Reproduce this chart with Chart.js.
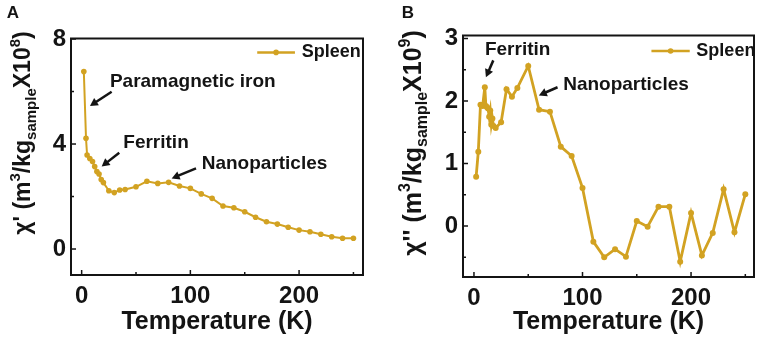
<!DOCTYPE html>
<html>
<head>
<meta charset="utf-8">
<script src="https://cdn.jsdelivr.net/npm/chart.js@4.4.0/dist/chart.umd.min.js"></script>
<style>
html, body { margin: 0; padding: 0; background: #fff; }
#wrap { position: relative; width: 760px; height: 337px; }
.panel { position: absolute; top: 0; width: 380px; height: 337px; }
</style>
</head>
<body>
<div id="wrap">
  <div class="panel" style="left:0"><canvas id="chartA" width="380" height="337"></canvas></div>
  <div class="panel" style="left:380px"><canvas id="chartB" width="380" height="337"></canvas></div>
</div>
<script>
// panel A: real part chi'
const tempA = [2, 4, 5, 7.5, 10, 12, 14, 16, 18, 20, 25, 30, 35, 40, 50, 60, 70, 80, 90, 100,
  110, 120, 130, 140, 150, 160, 170, 180, 190, 200, 210, 220, 230, 240, 250];
const chiRealA = [6.76, 4.22, 3.58, 3.45, 3.33, 3.14, 2.95, 2.86, 2.65, 2.53, 2.22, 2.15, 2.25, 2.27, 2.37, 2.58, 2.50, 2.54, 2.40, 2.31,
  2.10, 1.93, 1.64, 1.57, 1.42, 1.21, 1.04, 0.95, 0.83, 0.72, 0.66, 0.56, 0.47, 0.41, 0.41];

// panel B: imaginary part chi''
const tempB = [2, 4, 6, 8, 10, 11, 12, 13, 14, 15, 16, 17, 18, 20, 25, 30, 35, 40, 50, 60,
  70, 80, 90, 100, 110, 120, 130, 140, 150, 160, 170, 180, 190, 200, 210, 220, 230, 240, 250];
const chiImagB = [0.79, 1.19, 1.94, 1.92, 2.22, 1.92, 1.90, 1.88, 1.75, 1.85, 1.62, 1.72, 1.60, 1.57, 1.66, 2.19, 2.07, 2.21, 2.56, 1.86,
  1.83, 1.27, 1.12, 0.61, -0.25, -0.50, -0.37, -0.49, 0.08, -0.01, 0.31, 0.31, -0.57, 0.21, -0.47, -0.11, 0.59, -0.10, 0.51];

// ticks
const xTickLabels = [0, 100, 200];
const xMinorTicks = [50, 150, 250];
const yTicksA = [0, 4, 8];
const yMinorA = [2, 6];
const yTicksB = [0, 1, 2, 3];
const yMinorB = [-0.5, 0.5, 1.5, 2.5];

const seriesName = 'Spleen';
const GOLD = '#d2a222';
const INK = '#141414';
const FONT = '"Liberation Sans", Arial, sans-serif';

// annotations, in data units
const notesA = [
  { text: 'Paramagnetic iron', at: [26, 6.37], from: [27.6, 5.99], to: [7.6, 5.45] },
  { text: 'Ferritin', at: [38.3, 4.03], from: [34.6, 3.67], to: [18.4, 3.14] },
  { text: 'Nanoparticles', at: [110.4, 3.24], from: [105.2, 3.07], to: [82.8, 2.69] }
];
const notesB = [
  { text: 'Ferritin', at: [10.1, 2.82], from: [17.8, 2.65], to: [11, 2.38] },
  { text: 'Nanoparticles', at: [82.2, 2.26], from: [77, 2.22], to: [59.8, 2.09] }
];

function drawArrow(ctx, x1, y1, x2, y2) {
  const ang = Math.atan2(y2 - y1, x2 - x1);
  const head = 9;
  ctx.beginPath();
  ctx.moveTo(x1, y1);
  ctx.lineTo(x2 - Math.cos(ang) * head * 0.8, y2 - Math.sin(ang) * head * 0.8);
  ctx.stroke();
  ctx.beginPath();
  ctx.moveTo(x2, y2);
  ctx.lineTo(x2 - head * Math.cos(ang - 0.5), y2 - head * Math.sin(ang - 0.5));
  ctx.lineTo(x2 - head * Math.cos(ang + 0.5), y2 - head * Math.sin(ang + 0.5));
  ctx.closePath();
  ctx.fill();
}

// draw rotated text with super/subscripts
function drawRich(ctx, parts, cx, cy) {
  ctx.save();
  ctx.translate(cx, cy);
  ctx.rotate(-Math.PI / 2);
  let w = 0;
  parts.forEach(p => { ctx.font = 'bold ' + p.s + 'px ' + FONT; p.w = ctx.measureText(p.t).width; w += p.w; });
  let x = -w / 2;
  ctx.textBaseline = 'alphabetic';
  ctx.textAlign = 'left';
  parts.forEach(p => {
    ctx.font = 'bold ' + p.s + 'px ' + FONT;
    ctx.fillText(p.t, x, p.dy || 0);
    x += p.w;
  });
  ctx.restore();
}

const decor = {
  id: 'decor',
  afterDraw(chart, args, o) {
    const { ctx, chartArea: a, scales: { x, y } } = chart;
    ctx.save();
    ctx.strokeStyle = INK;
    ctx.fillStyle = INK;
    // frame
    ctx.lineWidth = 2;
    ctx.strokeRect(a.left, a.top, a.right - a.left, a.bottom - a.top);
    // inward ticks
    ctx.lineWidth = 1.5;
    const tx = (v, len) => { const p = x.getPixelForValue(v); ctx.beginPath(); ctx.moveTo(p, a.bottom); ctx.lineTo(p, a.bottom - len); ctx.stroke(); };
    const ty = (v, len) => { const p = y.getPixelForValue(v); ctx.beginPath(); ctx.moveTo(a.left, p); ctx.lineTo(a.left + len, p); ctx.stroke(); };
    xTickLabels.forEach(v => tx(v, 5));
    xMinorTicks.forEach(v => tx(v, 3));
    o.yMajor.forEach(v => ty(v, 5));
    o.yMinor.forEach(v => ty(v, 3));

    // annotations
    ctx.lineWidth = 2.5;
    ctx.font = 'bold 19px ' + FONT;
    ctx.textAlign = 'left';
    ctx.textBaseline = 'middle';
    o.notes.forEach(n => {
      ctx.fillText(n.text, x.getPixelForValue(n.at[0]), y.getPixelForValue(n.at[1]));
      drawArrow(ctx, x.getPixelForValue(n.from[0]), y.getPixelForValue(n.from[1]),
        x.getPixelForValue(n.to[0]), y.getPixelForValue(n.to[1]));
    });

    // legend
    const lg = o.legend;
    const lx1 = x.getPixelForValue(lg.x1), lx2 = x.getPixelForValue(lg.x2), ly = y.getPixelForValue(lg.y);
    ctx.strokeStyle = GOLD;
    ctx.fillStyle = GOLD;
    ctx.lineWidth = 2.5;
    ctx.beginPath(); ctx.moveTo(lx1, ly); ctx.lineTo(lx2, ly); ctx.stroke();
    ctx.beginPath(); ctx.arc((lx1 + lx2) / 2, ly, 2.8, 0, Math.PI * 2); ctx.fill();
    ctx.fillStyle = INK;
    ctx.font = 'bold 18px ' + FONT;
    ctx.fillText(seriesName, x.getPixelForValue(lg.tx), ly);

    // axis titles
    ctx.font = 'bold 25px ' + FONT;
    ctx.textAlign = 'center';
    ctx.textBaseline = 'middle';
    ctx.fillText('Temperature (K)', (a.left + a.right) / 2, o.xTitleY);
    drawRich(ctx, o.yTitle, o.yTitleX, o.yTitleY);

    // panel letter
    ctx.font = 'bold 17px ' + FONT;
    ctx.fillText(o.letter, o.letterX, 13);
    ctx.restore();
  }
};

function makeChart(id, temps, values, cfg) {
  const ctx = document.getElementById(id).getContext('2d');
  return new Chart(ctx, {
    type: 'line',
    data: {
      datasets: [{
        label: seriesName,
        data: temps.map((t, i) => ({ x: t, y: values[i] })),
        borderColor: GOLD,
        backgroundColor: GOLD,
        borderWidth: cfg.lineWidth,
        pointRadius: cfg.pointRadius,
        pointBackgroundColor: GOLD,
        pointBorderWidth: 0,
        tension: 0,
        fill: false
      }]
    },
    options: {
      responsive: false,
      animation: false,
      devicePixelRatio: 1,
      layout: { padding: { top: cfg.top, right: cfg.right, left: 0, bottom: 0 } },
      scales: {
        x: {
          type: 'linear',
          min: cfg.xMin,
          max: cfg.xMax,
          grid: { display: false, drawTicks: false },
          border: { display: false },
          afterBuildTicks: s => { s.ticks = xTickLabels.map(v => ({ value: v })); },
          afterFit: s => { s.height = cfg.xHeight; },
          ticks: { color: INK, padding: 7, maxRotation: 0, font: { family: FONT, size: 24, weight: 'bold' } }
        },
        y: {
          min: cfg.yMin,
          max: cfg.yMax,
          grid: { display: false, drawTicks: false },
          border: { display: false },
          afterBuildTicks: s => { s.ticks = cfg.yMajor.map(v => ({ value: v })); },
          afterFit: s => { s.width = cfg.yWidth; },
          ticks: { color: INK, padding: 5, font: { family: FONT, size: 24, weight: 'bold' } }
        }
      },
      plugins: {
        legend: { display: false },
        tooltip: { enabled: false },
        decor: cfg.decor
      }
    },
    plugins: [decor]
  });
}

makeChart('chartA', tempA, chiRealA, {
  lineWidth: 2, pointRadius: 2.8,
  top: 38.5, right: 17, xHeight: 62, yWidth: 71,
  xMin: -9.8, xMax: 258.8, yMin: -0.99, yMax: 8.02, yMajor: yTicksA,
  decor: {
    yMajor: yTicksA, yMinor: yMinorA, notes: notesA,
    legend: { x1: 161.5, x2: 196.2, y: 7.49, tx: 202.4 },
    xTitleY: 322,
    yTitle: [
      { t: "\u03c7' (m", s: 23 }, { t: '3', s: 15, dy: -10 }, { t: '/kg', s: 23 },
      { t: 'sample', s: 15, dy: 6 }, { t: 'X10', s: 23 }, { t: '8', s: 15, dy: -10 }, { t: ')', s: 23 }
    ],
    yTitleX: 30, yTitleY: 133,
    letter: 'A', letterX: 13
  }
});

makeChart('chartB', tempB, chiImagB, {
  lineWidth: 2.8, pointRadius: 3,
  top: 35.5, right: 6, xHeight: 60, yWidth: 83,
  xMin: -10.1, xMax: 258, yMin: -0.816, yMax: 3.048, yMajor: yTicksB,
  decor: {
    yMajor: yTicksB, yMinor: yMinorB, notes: notesB,
    legend: { x1: 163.5, x2: 198.8, y: 2.80, tx: 204.9 },
    xTitleY: 322,
    yTitle: [
      { t: "\u03c7'' (m", s: 25 }, { t: '3', s: 16, dy: -11 }, { t: '/kg', s: 25 },
      { t: 'sample', s: 16, dy: 6 }, { t: 'X10', s: 25 }, { t: '9', s: 16, dy: -11 }, { t: ')', s: 25 }
    ],
    yTitleX: 41, yTitleY: 143,
    letter: 'B', letterX: 28
  }
});
</script>
</body>
</html>
